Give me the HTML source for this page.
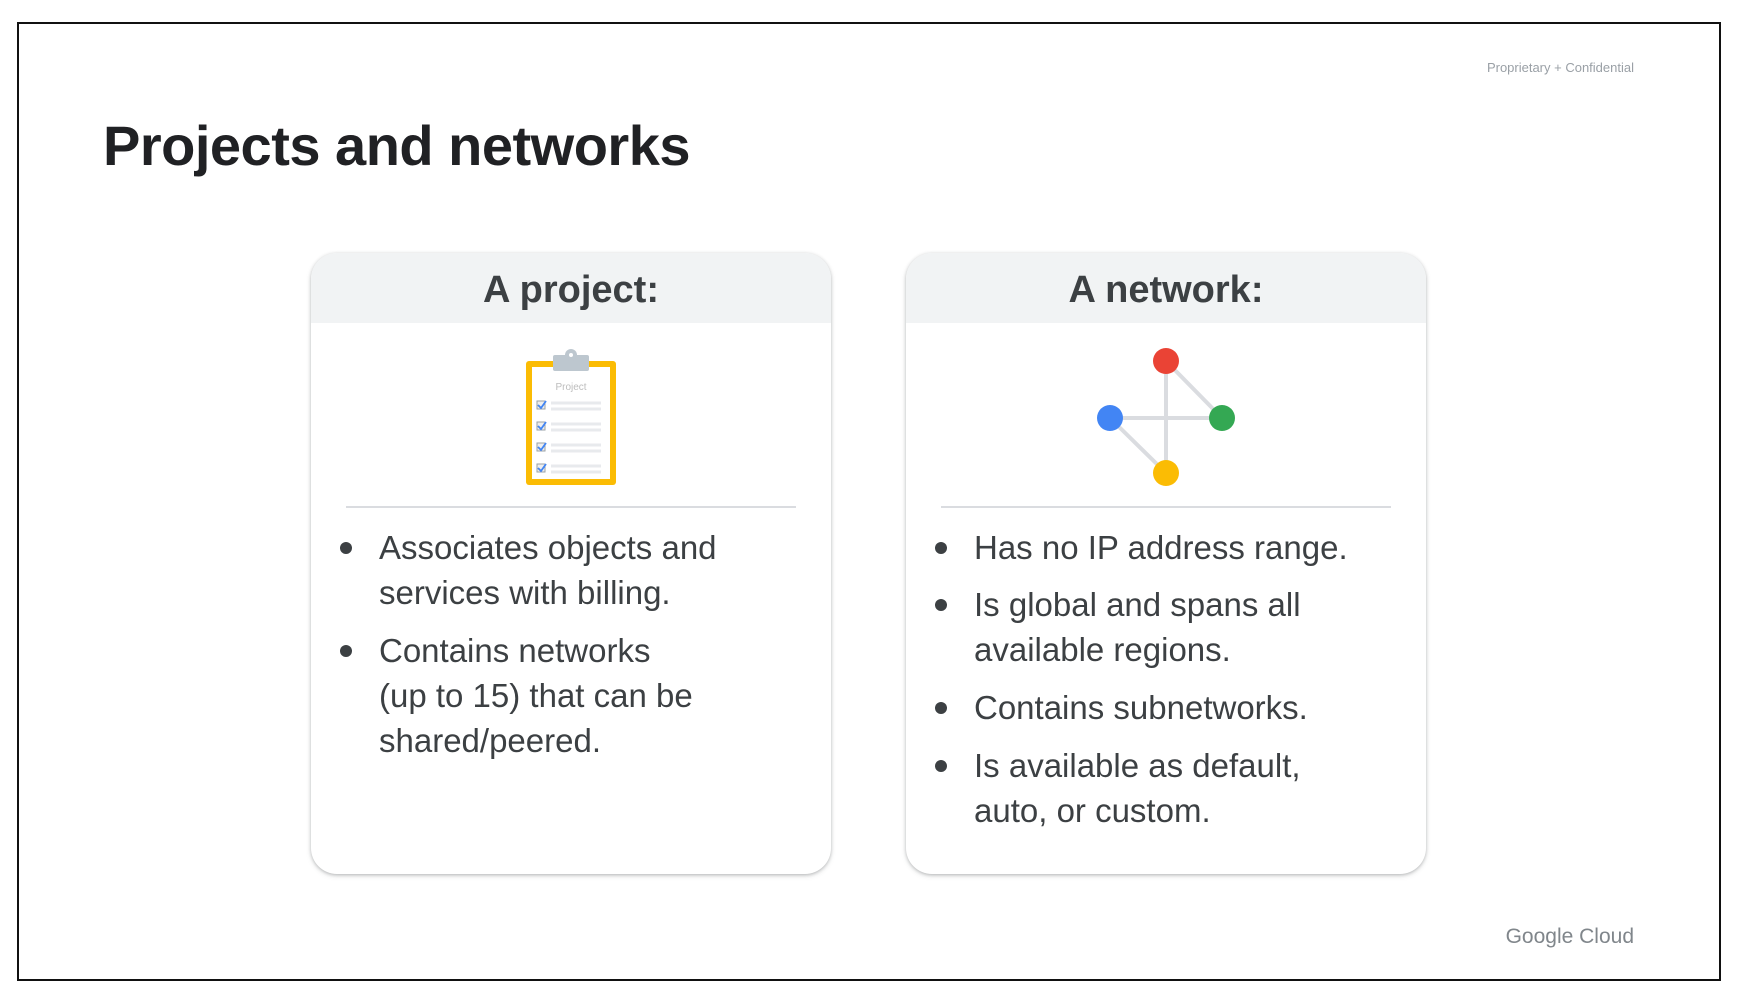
<!DOCTYPE html>
<html><head><meta charset="utf-8"><style>
*{margin:0;padding:0;box-sizing:border-box}
body{width:1756px;height:995px;background:#fff;position:relative;overflow:hidden;font-family:"Liberation Sans",sans-serif;color:#3c4043}
.frame{position:absolute;left:17px;top:22px;width:1704px;height:959px;border:2.5px solid #111}
.abs{position:absolute;white-space:nowrap}
.card{position:absolute;top:253px;width:520px;height:621px;border-radius:26px;background:#fff;box-shadow:0 1px 3px rgba(60,64,67,.3),0 2px 6px rgba(60,64,67,.12);overflow:hidden}
.hdr{height:70px;background:#f1f3f4;text-align:center;font-size:38px;font-weight:bold;color:#3c4043;line-height:74px}
.div{position:absolute;left:35px;width:450px;top:253px;height:2px;background:#dadce0}
.b{position:absolute;left:68px;font-size:33px;line-height:45px;color:#3c4043}
.b:before{content:"";position:absolute;left:-39px;top:17px;width:12px;height:12px;border-radius:50%;background:#3c4043}
</style></head><body>
<div class="frame"></div>
<div class="abs" style="right:122px;top:60px;font-size:13px;color:#9aa0a6">Proprietary + Confidential</div>
<div class="abs" style="left:103px;top:113px;font-size:56px;font-weight:bold;color:#202124;letter-spacing:-0.5px">Projects and networks</div>
<div class="abs" style="right:122px;top:925px;font-size:21px;color:#80868b">Google Cloud</div>

<div class="card" style="left:311px">
 <div class="hdr">A project:</div>
 <svg style="position:absolute;left:212px;top:94px" width="96" height="142" viewBox="0 0 96 142">
  <rect x="3" y="14" width="90" height="124" rx="3" fill="#fbbc04"/>
  <rect x="9" y="20" width="78" height="112" fill="#fff"/>
  <rect x="30" y="8" width="36" height="16" rx="2" fill="#bdc7cf"/>
  <circle cx="48" cy="8" r="6" fill="#bdc7cf"/><circle cx="48" cy="8" r="2" fill="#fff"/>
  <text x="48" y="43" font-size="10" fill="#bdbdbd" text-anchor="middle" font-family="Liberation Sans">Project</text>
  <g fill="none" stroke="#e8eaed" stroke-width="3">
   <path d="M28 56h50M28 62h50M28 77h50M28 83h50M28 98h50M28 104h50M28 119h50M28 125h50"/>
  </g>
  <g stroke="#9aa0a6" fill="#eee" stroke-width="1"><rect x="14" y="54" width="8" height="8"/><rect x="14" y="75" width="8" height="8"/><rect x="14" y="96" width="8" height="8"/><rect x="14" y="117" width="8" height="8"/></g>
  <g stroke="#4285f4" fill="none" stroke-width="1.8"><path d="M15 58l3 3 5-7M15 79l3 3 5-7M15 100l3 3 5-7M15 121l3 3 5-7"/></g>
 </svg>
 <div class="div"></div>
 <div class="b" style="top:272px">Associates objects and<br>services with billing.</div>
 <div class="b" style="top:375px">Contains networks<br>(up to 15) that can be<br>shared/peered.</div>
</div>

<div class="card" style="left:906px">
 <div class="hdr">A network:</div>
 <svg style="position:absolute;left:180px;top:90px" width="160" height="150">
  <g stroke="#dadce0" stroke-width="4" fill="none">
   <path d="M80 18V130M24 75H136M80 18L136 75M24 75L80 130"/>
  </g>
  <circle cx="80" cy="18" r="13" fill="#ea4335"/>
  <circle cx="24" cy="75" r="13" fill="#4285f4"/>
  <circle cx="136" cy="75" r="13" fill="#34a853"/>
  <circle cx="80" cy="130" r="13" fill="#fbbc04"/>
 </svg>
 <div class="div"></div>
 <div class="b" style="top:272px">Has no IP address range.</div>
 <div class="b" style="top:329px">Is global and spans all<br>available regions.</div>
 <div class="b" style="top:432px">Contains subnetworks.</div>
 <div class="b" style="top:490px">Is available as default,<br>auto, or custom.</div>
</div>
</body></html>
